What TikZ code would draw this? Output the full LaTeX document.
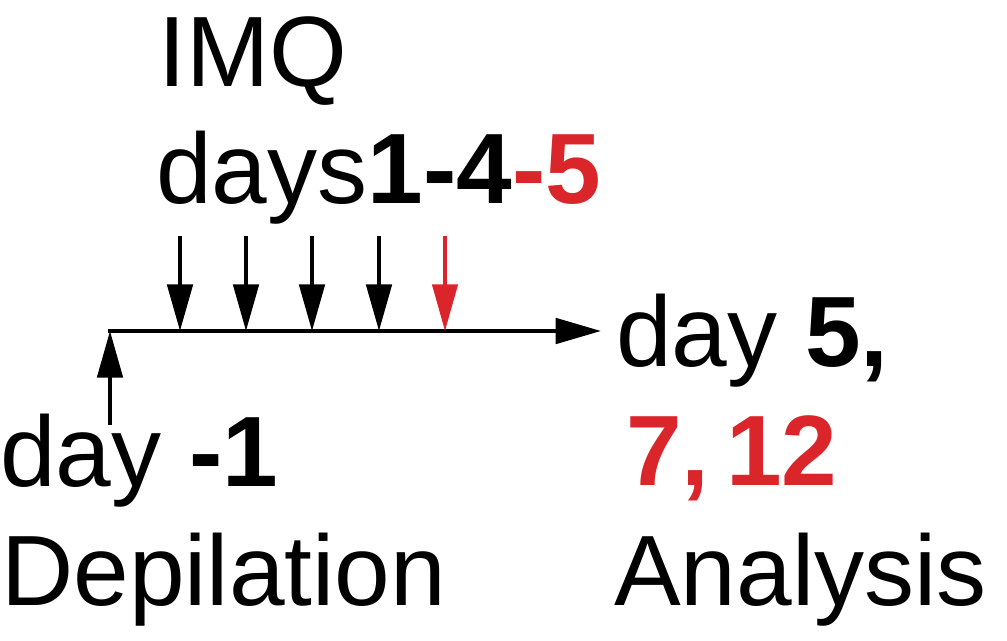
\documentclass[tikz,border=0pt]{standalone}
\usepackage{fontspec}
\setmainfont{Liberation Sans}
\usetikzlibrary{arrows.meta}
\definecolor{imqred}{RGB}{218,37,42}
\tikzset{
  lbl/.style={anchor=base west,inner sep=0pt,font=\fontsize{75}{90}\selectfont},
  tl/.style={line width=3pt,-{Triangle[length=34pt,width=19pt]}},
  dose/.style={line width=3pt,-{Triangle[length=35pt,width=19pt]}},
  redose/.style={dose,line width=2.4pt,draw=imqred,fill=imqred}
}
\begin{document}
\begin{tikzpicture}[x=0.75pt,y=-0.75pt]
\useasboundingbox (0,0) rectangle (1007,641);
% text
\node[lbl] (imq) at (158,87) {IMQ};
\node[lbl] (days) at (156,204) {days\textbf{1-4}\textcolor{imqred}{\textbf{-5}}};
\node[lbl] (dm1) at (0,487) {day \textbf{-1}};
\node[lbl] (dep) at (1,605) {Depilation};
\node[lbl] (d5) at (616,367) {day \textbf{5,}};
\node[lbl] (d712) at (626,485) {\textcolor{imqred}{\textbf{7,\,12}}};
\node[lbl] (ana) at (614,605) {Analysis};
% timeline
\coordinate (t0) at (108,331);
\coordinate (t1) at (601,331);
\draw[tl] (t0) -- (t1);
% dose arrows
\foreach \i/\x in {1/180,2/246,3/312,4/379}{
  \coordinate (a\i) at (\x,236);
  \coordinate (b\i) at (\x,331);
  \draw[dose] (a\i) -- (b\i);
}
\coordinate (a5) at (445,236);
\coordinate (b5) at (445,331);
\draw[redose] (a5) -- (b5);
% depilation arrow
\coordinate (u0) at (110,425);
\coordinate (u1) at (110,331);
\draw[dose] (u0) -- (u1);
\end{tikzpicture}
\end{document}
